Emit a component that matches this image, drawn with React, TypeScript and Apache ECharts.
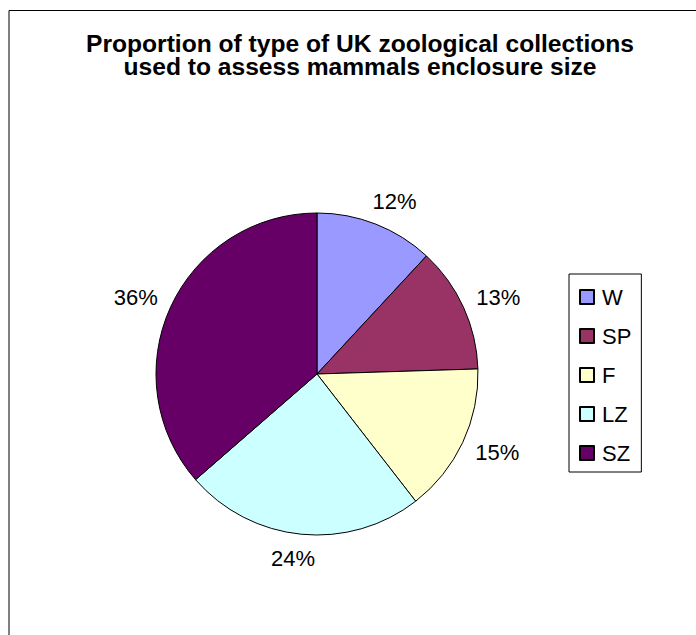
import React, { useEffect, useRef } from "react";
import * as echarts from "echarts";

const titleLines = [
  "Proportion of type of UK zoological collections",
  "used to assess mammals enclosure size",
];
const categories = ["W", "SP", "F", "LZ", "SZ"];
// shares read from the slice boundaries (labels show them rounded)
const values = [11.9, 12.6, 15.0, 24.1, 36.4];
const colors = ["#9999FF", "#993366", "#FFFFCC", "#CCFFFF", "#660066"];

const FONT = "'Liberation Sans', Arial, sans-serif";
const CX = 317;
const CY = 374;
const R = 161;

export default function App() {
  const ref = useRef<HTMLDivElement>(null);

  useEffect(() => {
    if (!ref.current) return;
    const chart = echarts.init(ref.current, null, { renderer: "svg" });
    const total = values.reduce((a, b) => a + b, 0);

    chart.setOption({
      animation: false,
      backgroundColor: "#ffffff",
      title: {
        text: titleLines.join("\n"),
        left: 360,
        top: 31.5,
        textAlign: "center",
        padding: 0,
        textStyle: {
          fontFamily: FONT,
          fontSize: 24.6,
          fontWeight: "bold",
          lineHeight: 23,
          color: "#000",
        },
      },
      legend: {
        orient: "vertical",
        left: 569,
        top: 274,
        padding: [12, 10, 8, 10],
        borderColor: "#000",
        borderWidth: 1,
        itemGap: 17,
        itemWidth: 14,
        itemHeight: 14,
        icon: "rect",
        selectedMode: false,
        data: categories,
        textStyle: {
          fontFamily: FONT,
          fontSize: 22,
          lineHeight: 22,
          color: "#000",
          padding: [0, 0, 0, 3],
        },
      },
      graphic: [
        {
          type: "rect",
          silent: true,
          shape: { x: 9, y: 10.5, width: 1000, height: 1000 },
          style: { fill: "none", stroke: "#000", lineWidth: 1 },
          z: -1,
        },
      ],
      series: [
        {
          type: "pie",
          center: [CX, CY],
          radius: R,
          startAngle: 90,
          clockwise: true,
          avoidLabelOverlap: false,
          silent: true,
          itemStyle: { borderColor: "#000", borderWidth: 1 },
          label: {
            show: true,
            position: "outside",
            formatter: (p: any) => Math.round(p.percent) + "%",
            fontFamily: FONT,
            fontSize: 22,
            color: "#000",
          },
          labelLine: { show: false },
          labelLayout: (p: any) => {
            const i = p.dataIndex;
            let cum = 0;
            for (let j = 0; j < i; j++) cum += values[j];
            const mid = ((cum + values[i] / 2) / total) * Math.PI * 2;
            const ux = Math.sin(mid);
            const uy = -Math.cos(mid);
            const w = p.labelRect ? p.labelRect.width : 44;
            const d = R + 15;
            const offX = Math.sign(ux) * Math.sqrt(Math.abs(ux)) * (w / 2);
            const offY = uy * 9;
            return {
              x: CX + d * ux + offX,
              y: CY + d * uy + offY,
              align: "center",
              verticalAlign: "middle",
            };
          },
          emphasis: { disabled: true },
          data: categories.map((name, i) => ({
            name,
            value: values[i],
            itemStyle: { color: colors[i] },
          })),
        },
      ],
    });

    return () => chart.dispose();
  }, []);

  return (
    <div
      ref={ref}
      style={{ position: "fixed", left: 0, top: 0, width: 696, height: 635 }}
    />
  );
}
